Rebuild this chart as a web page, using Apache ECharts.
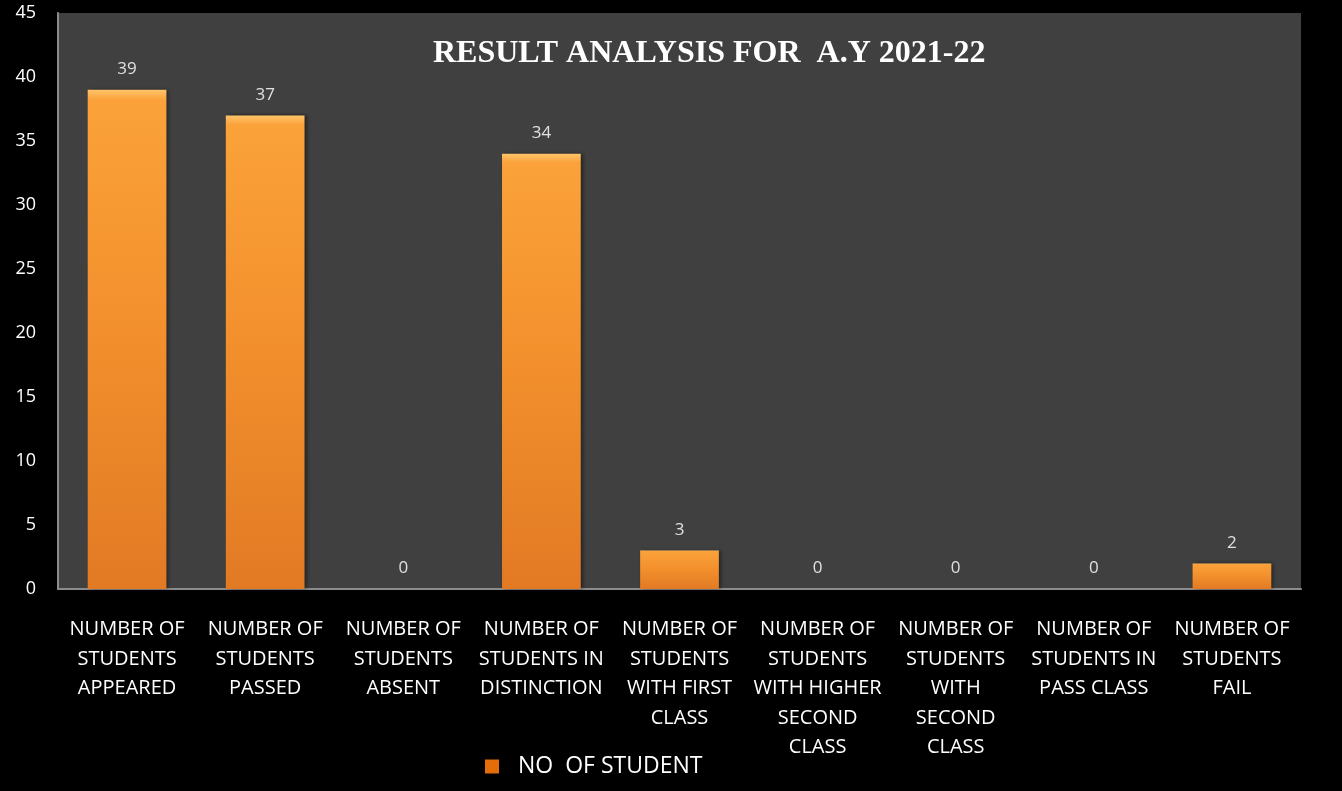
<!DOCTYPE html>
<html>
<head>
<meta charset="utf-8">
<script src="https://cdn.jsdelivr.net/npm/echarts@6/dist/echarts.min.js"></script>
<style>
  html, body { margin: 0; padding: 0; background: #000; }
  #main { width: 1342px; height: 791px; }
</style>
</head>
<body>
<div id="main"></div>
<script>
// categories as shown on the x axis (wrapped like the original)
var categories = [
    'NUMBER OF\nSTUDENTS\nAPPEARED',
    'NUMBER OF\nSTUDENTS\nPASSED',
    'NUMBER OF\nSTUDENTS\nABSENT',
    'NUMBER OF\nSTUDENTS IN\nDISTINCTION',
    'NUMBER OF\nSTUDENTS\nWITH FIRST\nCLASS',
    'NUMBER OF\nSTUDENTS\nWITH HIGHER\nSECOND\nCLASS',
    'NUMBER OF\nSTUDENTS\nWITH\nSECOND\nCLASS',
    'NUMBER OF\nSTUDENTS IN\nPASS CLASS',
    'NUMBER OF\nSTUDENTS\nFAIL'
];
var studentCounts = [39, 37, 0, 34, 3, 0, 0, 0, 2];
var seriesName = 'NO  OF STUDENT';
var chartTitle = 'RESULT ANALYSIS FOR  A.Y 2021-22';
var yMin = 0, yMax = 45, yStep = 5;

var myChart = echarts.init(document.getElementById('main'));

// orange bar with a light top edge, like the bevelled office bars
var barFill = new echarts.graphic.LinearGradient(0, 0, 0, 1, [
    { offset: 0, color: '#ffc46a' },
    { offset: 0.02, color: '#fba23a' },
    { offset: 0.5, color: '#f28f2c' },
    { offset: 1, color: '#e27a24' }
]);

var option = {
    backgroundColor: '#000000',
    animation: false,
    title: {
        text: chartTitle,
        left: 428,
        top: 33,
        textStyle: {
            color: '#ffffff',
            fontFamily: 'Liberation Serif',
            fontWeight: 'bold',
            fontSize: 32
        }
    },
    legend: {
        top: 750,
        left: 480,
        itemWidth: 14,
        itemHeight: 14,
        itemGap: 10,
        icon: 'rect',
        textStyle: {
            color: '#ffffff',
            fontSize: 23,
            fontFamily: 'Open Sans',
            padding: [0, 0, 0, 14]
        },
        data: [{ name: seriesName, itemStyle: { color: '#e46c0a' } }]
    },
    grid: {
        left: 58,
        right: 41,
        top: 13,
        bottom: 202,
        show: true,
        backgroundColor: '#404040',
        borderWidth: 0,
        containLabel: false
    },
    xAxis: {
        type: 'category',
        data: categories,
        axisLine: { lineStyle: { color: '#8c8c8c', width: 2 } },
        axisTick: { show: false },
        axisLabel: {
            color: '#ffffff',
            fontFamily: 'Open Sans',
            fontSize: 20,
            lineHeight: 29.5,
            margin: 26,
            interval: 0
        }
    },
    yAxis: {
        type: 'value',
        min: yMin,
        max: yMax,
        interval: yStep,
        splitLine: { show: false },
        axisLine: { show: true, lineStyle: { color: '#8c8c8c', width: 2 } },
        axisTick: { show: false },
        axisLabel: {
            color: '#ffffff',
            fontFamily: 'Open Sans',
            fontSize: 18,
            margin: 22
        }
    },
    series: [{
        name: seriesName,
        type: 'bar',
        data: studentCounts,
        barCategoryGap: '43%',
        itemStyle: {
            color: barFill,
            borderWidth: 0,
            shadowColor: 'rgba(0,0,0,0.45)',
            shadowBlur: 4,
            shadowOffsetX: 2
        },
        label: {
            show: true,
            position: 'top',
            distance: 12,
            color: '#e0e0e0',
            fontFamily: 'Open Sans',
            fontSize: 17
        }
    }]
};

myChart.setOption(option);
</script>
</body>
</html>
